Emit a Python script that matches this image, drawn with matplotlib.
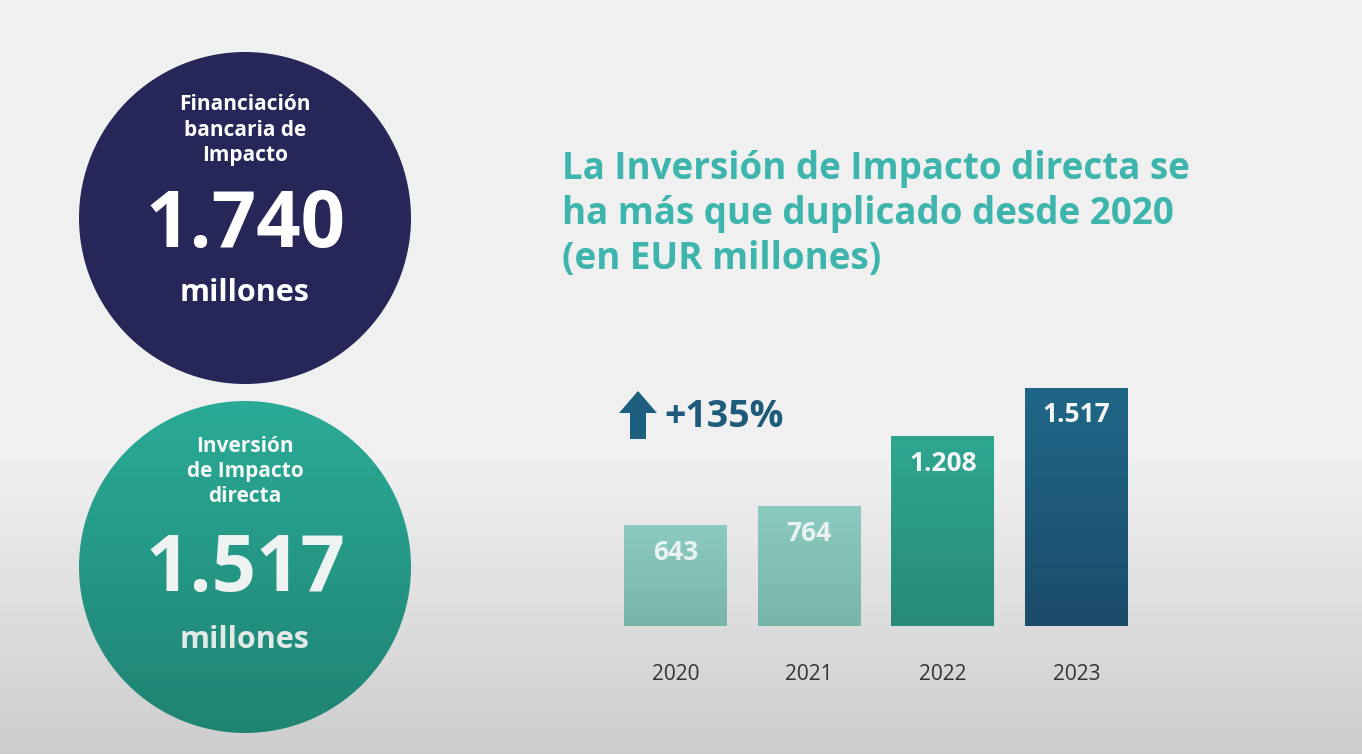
import numpy as np
import matplotlib
matplotlib.use("Agg")
import matplotlib.pyplot as plt
from matplotlib.patches import Circle, Polygon
from matplotlib.colors import LinearSegmentedColormap

plt.rcParams['font.family'] = ['Open Sans', 'DejaVu Sans']

# ---------------- data ----------------
years = ["2020", "2021", "2022", "2023"]
values = [643, 764, 1208, 1517]
value_labels = ["643", "764", "1.208", "1.517"]
growth_label = "+135%"
title_lines = ["La Inversión de Impacto directa se",
               "ha más que duplicado desde 2020",
               "(en EUR millones)"]
kpi1_title = ["Financiación", "bancaria de", "Impacto"]
kpi1_value = "1.740"
kpi2_title = ["Inversión", "de Impacto", "directa"]
kpi2_value = "1.517"
unit_label = "millones"

# ---------------- figure ----------------
W, H = 1362, 754
fig = plt.figure(figsize=(W / 100, H / 100), dpi=100)

bg = fig.add_axes([0, 0, 1, 1])
bg.set_xlim(0, W)
bg.set_ylim(H, 0)
bg.axis("off")

# background gradient (light top, darker gray at bottom)
ys = np.linspace(0, 1, 400)
shade = np.where(ys < 0.6, 0.945, 0.945 - (ys - 0.6) / 0.4 * 0.14)
grad = np.repeat(shade[:, None], 2, axis=1)
bg.imshow(np.dstack([grad, grad, grad]), extent=[0, W, H, 0], aspect="auto", zorder=0)

# navy circle
c1 = Circle((245, 218), 166, facecolor="#262658", edgecolor="none", zorder=2)
bg.add_patch(c1)

# teal circle with gradient
c2 = Circle((245, 567), 166, facecolor="none", edgecolor="none", zorder=2)
bg.add_patch(c2)
teal_cmap = LinearSegmentedColormap.from_list("teal", ["#2aab97", "#1f8373"])
g = np.linspace(0, 1, 256)[:, None]
im = bg.imshow(g, cmap=teal_cmap, extent=[79, 411, 733, 401], aspect="auto", zorder=2)
im.set_clip_path(c2)

# circle texts
for i, t in enumerate(kpi1_title):
    bg.text(245, 104 + i * 26, t, color="white", fontsize=15, fontweight="bold",
            ha="center", va="center", zorder=3)
bg.text(245, 226, kpi1_value, color="white", fontsize=56, fontweight="bold",
        ha="center", va="center", zorder=3)
bg.text(245, 293, unit_label, color="white", fontsize=22, fontweight="bold",
        ha="center", va="center", zorder=3)

for i, t in enumerate(kpi2_title):
    bg.text(245, 446 + i * 25.5, t, color="#f4f7f6", fontsize=15, fontweight="bold",
            ha="center", va="center", zorder=3)
bg.text(245, 571, kpi2_value, color="#eef2f1", fontsize=56, fontweight="bold",
        ha="center", va="center", zorder=3)
bg.text(245, 640, unit_label, color="#e3e9e7", fontsize=22, fontweight="bold",
        ha="center", va="center", zorder=3)

# title
for i, t in enumerate(title_lines):
    bg.text(562, 169 + i * 45, t, color="#3db5ad", fontsize=26.5, fontweight="bold",
            ha="left", va="center", zorder=3)

# growth arrow and label
arrow = Polygon([(638, 391), (657, 413), (646, 413), (646, 439), (630, 439),
                 (630, 413), (619, 413)], closed=True, facecolor="#1e5f80",
                edgecolor="none", zorder=3)
bg.add_patch(arrow)
bg.text(664, 417, growth_label, color="#1e5a7a", fontsize=27, fontweight="bold",
        ha="left", va="center", zorder=3)

# ---------------- bar chart ----------------
spacing = 133.7           # px per category
px_per_unit = 0.157       # px per EUR million
ax_h = 300
left = 675.5 - 0.5 * spacing
bottom = H - 626
ax = fig.add_axes([left / W, bottom / H, 4 * spacing / W, ax_h / H])
ax.patch.set_alpha(0)
for s in ax.spines.values():
    s.set_visible(False)
ax.set_yticks([])

x = np.arange(len(years))
bar_grads = [("#8ccbc1", "#78b4aa"), ("#8ccbc1", "#78b4aa"),
             ("#2ea791", "#288a79"), ("#206787", "#1b4c6a")]
bars = ax.bar(x, values, width=0.77, color="none", edgecolor="none")
for b, (ctop, cbot) in zip(bars, bar_grads):
    cm = LinearSegmentedColormap.from_list("b", [ctop, cbot])
    bx, by = b.get_x(), b.get_y()
    bw, bh = b.get_width(), b.get_height()
    gi = ax.imshow(g, cmap=cm, extent=[bx, bx + bw, by, by + bh], aspect="auto", zorder=2)
    gi.set_clip_path(b)
ax.set_xlim(-0.5, 3.5)
ax.set_ylim(0, ax_h / px_per_unit)

label_colors = ["#eaf3f1", "#eaf3f1", "#f4f7f6", "#f4f7f6"]
for xi, v, lab, lc in zip(x, values, value_labels, label_colors):
    ax.annotate(lab, (xi, v), xytext=(0, -27), textcoords="offset pixels",
                ha="center", va="center", color=lc, fontsize=19, fontweight="bold", zorder=4)

ax.set_xticks(x)
ax.set_xticklabels(years, fontsize=15, color="#333333")
ax.tick_params(axis="x", length=0, pad=27)

fig.savefig("out.png", dpi=100)
